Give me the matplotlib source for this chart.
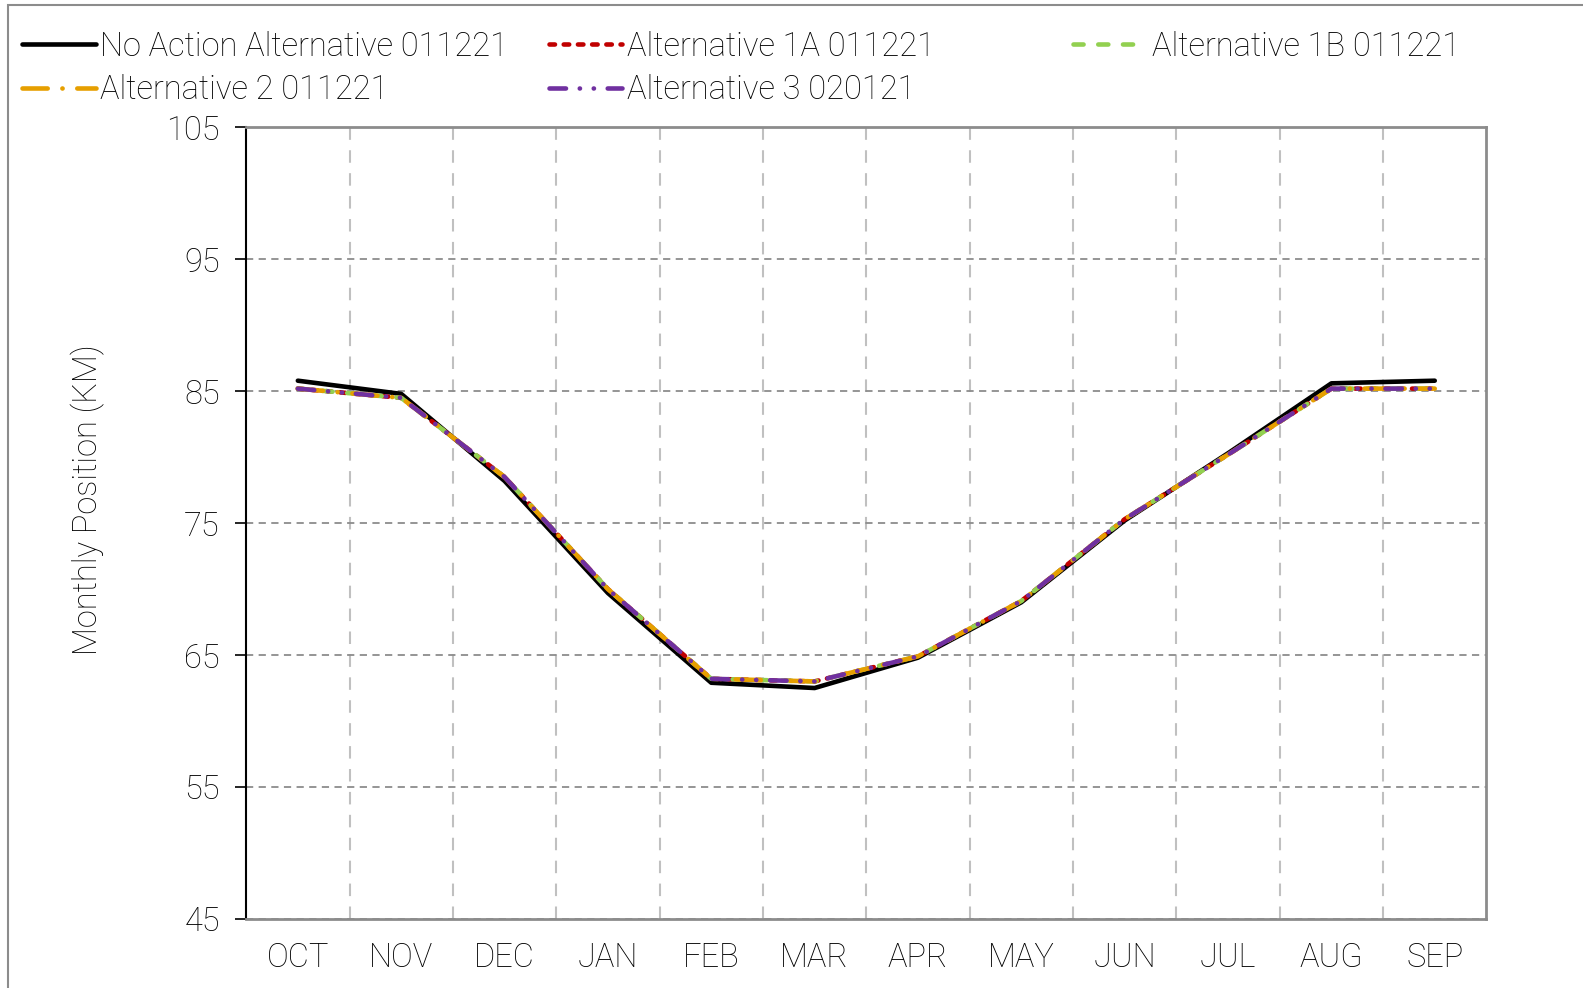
import matplotlib
matplotlib.use("Agg")
import matplotlib.pyplot as plt
from matplotlib.patches import Rectangle

months = ["OCT", "NOV", "DEC", "JAN", "FEB", "MAR",
          "APR", "MAY", "JUN", "JUL", "AUG", "SEP"]
no_action = [85.8, 84.8, 78.2, 69.7, 62.9, 62.5, 64.8, 69.0, 75.2, 80.3, 85.6, 85.8]
alt_1a = [85.2, 84.5, 78.5, 70.0, 63.2, 63.0, 64.9, 69.1, 75.3, 80.2, 85.2, 85.2]
alt_1b = [85.2, 84.5, 78.5, 70.0, 63.2, 63.0, 64.9, 69.1, 75.3, 80.2, 85.2, 85.2]
alt_2 = [85.2, 84.5, 78.5, 70.0, 63.2, 63.0, 64.9, 69.1, 75.3, 80.2, 85.2, 85.2]
alt_3 = [85.2, 84.5, 78.5, 70.0, 63.2, 63.0, 64.9, 69.1, 75.3, 80.2, 85.2, 85.2]
y_ticks = [45, 55, 65, 75, 85, 95, 105]

plt.rcParams["font.family"] = ["Roboto", "DejaVu Sans"]
plt.rcParams["font.weight"] = "light"
text_color = "black"
fs = 23.5

fig = plt.figure(figsize=(15.83, 9.88), dpi=100)
ax = fig.add_axes([0.1555, 0.07, 0.7835, 0.801])

x = list(range(len(months)))
lw = 3.3
ax.plot(x, no_action, color="black", lw=lw, solid_capstyle="round",
        label="No Action Alternative 011221", zorder=3)
ax.plot(x, alt_1a, color="#c00000", lw=lw, dash_capstyle="round",
        dashes=(1.2, 1.9), label="Alternative 1A 011221", zorder=4)
ax.plot(x, alt_1b, color="#92d050", lw=lw, dash_capstyle="round",
        dashes=(2.2, 3.2), label="Alternative 1B 011221", zorder=5)
ax.plot(x, alt_2, color="#e69f00", lw=lw, dash_capstyle="round",
        dashes=(5.5, 3.2, 0.05, 3.2), label="Alternative 2 011221", zorder=6)
ax.plot(x, alt_3, color="#7030a0", lw=lw, dash_capstyle="round",
        dashes=(3.6, 3.0, 0.05, 3.0, 0.05, 3.0), label="Alternative 3 020121", zorder=7)

ax.set_xlim(-0.5, len(months) - 0.5)
ax.set_ylim(45, 105)
ax.set_yticks(y_ticks)
ax.set_xticks(x)
ax.set_xticklabels(months)
ax.set_xticks([i + 0.5 for i in range(len(months) - 1)], minor=True)
ax.tick_params(axis="x", which="both", length=0, labelsize=fs, pad=17, colors=text_color)
ax.tick_params(axis="y", length=8, width=1.2, labelsize=fs, pad=11, colors=text_color)

ax.grid(axis="y", which="major", color="#8c8c8c", linestyle=(0, (4, 3)), lw=1.3)
ax.grid(axis="x", which="minor", color="#c0c0c0", linestyle=(0, (6, 5)), lw=1.5)
ax.set_axisbelow(True)

ax.spines["left"].set_color("black")
ax.spines["left"].set_linewidth(1.5)
for side in ["right", "top", "bottom"]:
    ax.spines[side].set_color("#8c8c8c")
    ax.spines[side].set_linewidth(2)

fig.text(0.0555, 0.494, "Monthly Position (KM)", rotation=90, fontsize=fs,
         color=text_color, ha="center", va="center", fontweight="light")

# legend: three columns of equal width, as in the original
handles, labels = ax.get_legend_handles_labels()
columns = [([0, 3], 0.014), ([1, 4], 0.3465), ([2], 0.678)]
for idx, x0 in columns:
    fig.legend([handles[i] for i in idx], [labels[i] for i in idx],
               loc="upper left", bbox_to_anchor=(x0, 0.969), ncol=1,
               frameon=False, fontsize=fs, handlelength=2.25, handletextpad=0.15,
               labelspacing=0.35, borderaxespad=0, borderpad=0)

fig.patches.append(Rectangle((0.005, -0.01), 1.0, 1.005, transform=fig.transFigure,
                             fill=False, edgecolor="#8c8c8c", lw=1.5))

fig.savefig("out.png", dpi=100)
